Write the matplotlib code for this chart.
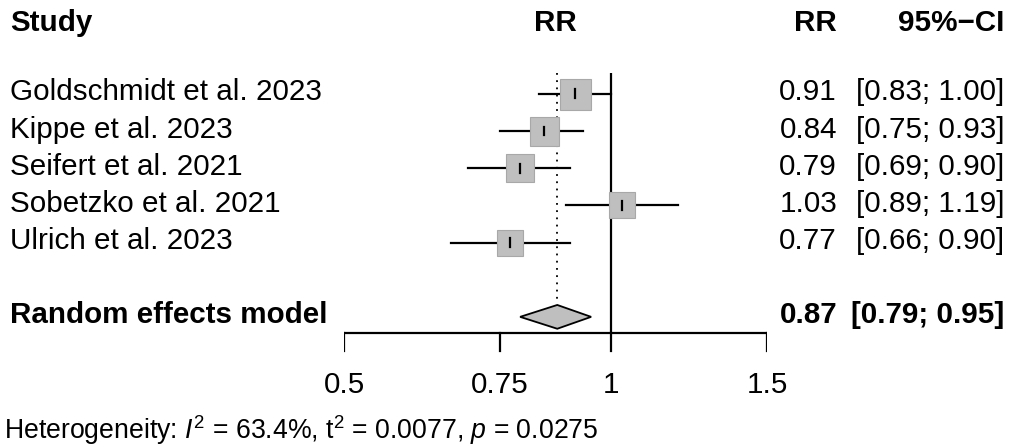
import matplotlib
matplotlib.use("Agg")
import matplotlib.pyplot as plt
import matplotlib.transforms as mtransforms
from matplotlib.patches import Polygon

# data
studies = ["Goldschmidt et al. 2023", "Kippe et al. 2023", "Seifert et al. 2021",
           "Sobetzko et al. 2021", "Ulrich et al. 2023"]
rr = [0.91, 0.84, 0.79, 1.03, 0.77]
lower = [0.83, 0.75, 0.69, 0.89, 0.66]
upper = [1.00, 0.93, 0.90, 1.19, 0.90]
box_px = [31, 29, 28, 27, 27]          # square side (pixels), ~ weights
re_label = "Random effects model"
re_est, re_lo, re_hi = 0.87, 0.79, 0.95
ticks = [0.5, 0.75, 1, 1.5]
tick_labels = ["0.5", "0.75", "1", "1.5"]
het_text = r"Heterogeneity: $I^2$ = 63.4%, t$^2$ = 0.0077, $p$ = 0.0275"

W, H = 1013, 448
plt.rcParams["font.family"] = ["Liberation Sans", "DejaVu Sans"]
plt.rcParams["mathtext.fontset"] = "custom"
plt.rcParams["mathtext.rm"] = "Liberation Sans"
plt.rcParams["mathtext.it"] = "Liberation Sans:italic"
FS = 21.3

fig = plt.figure(figsize=(W / 100, H / 100), dpi=100)
# forest axis spans x from 0.5 (344 px) to 1.5 (767 px)
ax = fig.add_axes([344 / W, 0, (767 - 344) / W, 1])
ax.set_xscale("log")
ax.set_xlim(0.5, 1.5)
row0, step = 19.5, 37.17               # pixel y of row 0 and row spacing
ax.set_ylim((H - row0) / step, -row0 / step)
ax.axis("off")

def py(p):
    return (p - row0) / step

tr = mtransforms.blended_transform_factory(fig.transFigure, ax.transData)

def fx(p):
    return p / W

LW = 1.6

# header
yh = py(23)
ax.text(fx(10), yh, "Study", transform=tr, ha="left", va="center", fontsize=FS, fontweight="bold")
ax.text(0.5, yh, "RR", transform=mtransforms.blended_transform_factory(ax.transAxes, ax.transData),
        ha="center", va="center", fontsize=FS, fontweight="bold")
ax.text(fx(837), yh, "RR", transform=tr, ha="right", va="center", fontsize=FS, fontweight="bold")
ax.text(fx(1004), yh, "95%\u2212CI", transform=tr, ha="right", va="center", fontsize=FS, fontweight="bold")

# reference lines
ax.plot([1, 1], [py(73), py(333)], color="black", lw=LW, solid_capstyle="butt")
ax.plot([re_est, re_est], [py(73), py(302)], color="black", lw=1.3, ls=(0, (1, 3)))

# studies
for i, name in enumerate(studies):
    y = i + 2
    ax.text(fx(10), y - 0.04, name, transform=tr, ha="left", va="center", fontsize=FS)
    ax.plot([lower[i], upper[i]], [y, y], color="black", lw=LW, zorder=2)
    ax.plot(rr[i], y, marker="s", markersize=box_px[i] * 0.72, markerfacecolor="#bfbfbf",
            markeredgecolor="#a8a8a8", markeredgewidth=0.8, zorder=3)
    ax.plot([rr[i], rr[i]], [y - 0.12, y + 0.12], color="black", lw=LW, zorder=4)
    ax.text(fx(837), y - 0.04, f"{rr[i]:.2f}", transform=tr, ha="right", va="center", fontsize=FS)
    ax.text(fx(1004), y - 0.04, f"[{lower[i]:.2f}; {upper[i]:.2f}]", transform=tr,
            ha="right", va="center", fontsize=FS)

# pooled estimate
yre = 8
hh = 0.32
ax.add_patch(Polygon([[re_lo, yre], [re_est, yre - hh], [re_hi, yre], [re_est, yre + hh]],
                     closed=True, facecolor="#bfbfbf", edgecolor="black", lw=1.3, zorder=3))
ax.text(fx(10), yre - 0.04, re_label, transform=tr, ha="left", va="center", fontsize=FS, fontweight="bold")
ax.text(fx(837), yre - 0.04, f"{re_est:.2f}", transform=tr, ha="right", va="center",
        fontsize=FS, fontweight="bold")
ax.text(fx(1004), yre - 0.04, f"[{re_lo:.2f}; {re_hi:.2f}]", transform=tr, ha="right", va="center",
        fontsize=FS, fontweight="bold")

# x axis drawn by hand
yax, ytick, ylab = py(333), py(351), py(385)
ax.plot([ticks[0], ticks[-1]], [yax, yax], color="black", lw=LW, solid_capstyle="projecting")
for t, lab in zip(ticks, tick_labels):
    ax.plot([t, t], [yax, ytick], color="black", lw=LW)
    ax.text(t, ylab, lab, ha="center", va="center", fontsize=FS)

ax.text(fx(4), py(430), het_text, transform=tr, ha="left", va="center", fontsize=FS * 0.9)

fig.savefig("out.png", dpi=100, facecolor="white")
